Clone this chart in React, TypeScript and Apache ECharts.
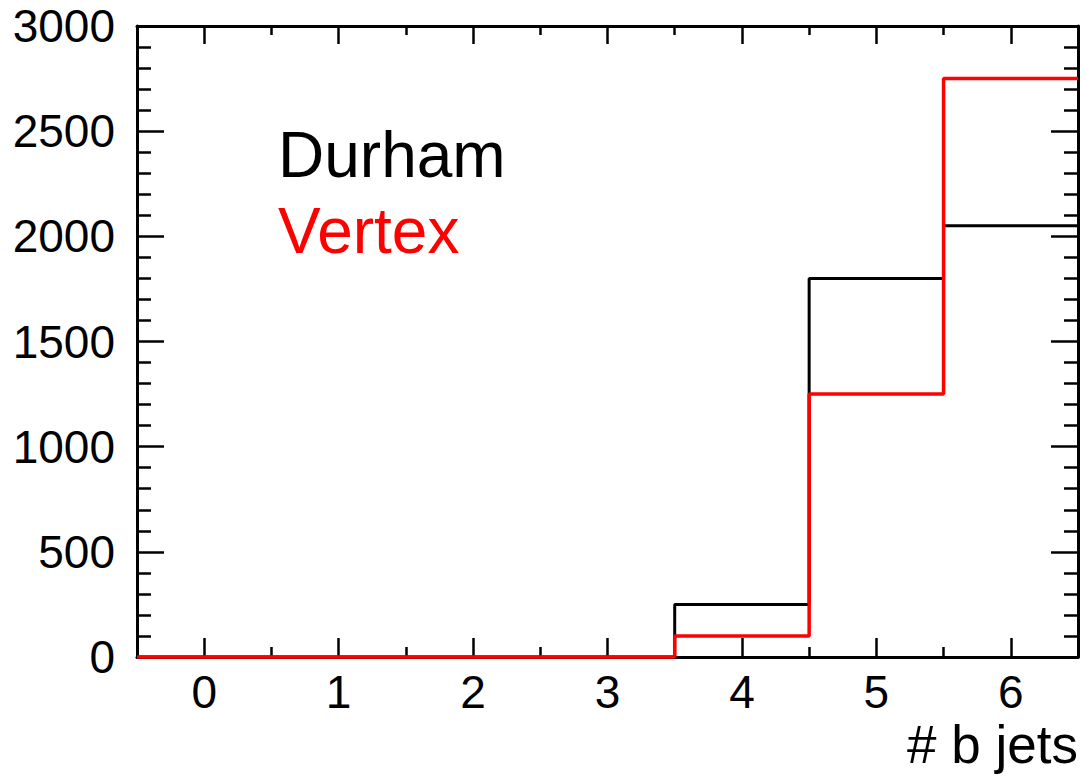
import React, { useEffect, useRef } from "react";
import * as echarts from "echarts";

const binCenters = [0, 1, 2, 3, 4, 5, 6];
const durham = [0, 0, 0, 0, 250, 1800, 2050];
const vertex = [0, 0, 0, 0, 100, 1250, 2750];
const xMajorTicks = [0, 1, 2, 3, 4, 5, 6];
const xMinorTicks = [0.5, 1.5, 2.5, 3.5, 4.5, 5.5];
const legendNames = ["Durham", "Vertex"];
const xTitle = "# b jets";

const FONT = "'Liberation Sans', Arial, Helvetica, sans-serif";

function histSteps(centers: number[], values: number[]) {
  const pts: number[][] = centers.map((c, i) => [c - 0.5, values[i]]);
  const last = centers.length - 1;
  pts.push([centers[last] + 0.5, values[last]]);
  return pts;
}

export default function App() {
  const ref = useRef<HTMLDivElement>(null);
  useEffect(() => {
    if (!ref.current) return;
    const chart = echarts.init(ref.current, null, { renderer: "svg" });
    const xBase = {
      type: "value" as const,
      min: -0.5,
      max: 6.5,
      splitLine: { show: false },
      axisLine: { show: true, onZero: false, lineStyle: { color: "#000", width: 3 } },
    };
    const yBase = {
      type: "value" as const,
      min: 0,
      max: 3000,
      interval: 500,
      splitLine: { show: false },
      axisLine: { show: true, onZero: false, lineStyle: { color: "#000", width: 3 } },
      axisTick: { show: true, inside: true, length: 27, lineStyle: { color: "#000", width: 2.5 } },
      minorTick: { show: true, splitNumber: 5, length: 14, lineStyle: { color: "#000", width: 2.5 } },
    };
    chart.setOption({
      animation: false,
      backgroundColor: "#fff",
      grid: { left: 137, right: 8, top: 26, bottom: 120, containLabel: false },
      xAxis: [
        {
          ...xBase,
          position: "bottom",
          name: xTitle,
          nameLocation: "end",
          nameGap: 0,
          nameTextStyle: {
            color: "#000",
            fontSize: 53,
            fontFamily: FONT,
            align: "right",
            verticalAlign: "top",
            padding: [61, 0, 0, 0],
          },
          axisTick: { show: true, inside: true, length: 19, customValues: xMajorTicks, lineStyle: { color: "#000", width: 2.5 } },
          axisLabel: { show: true, customValues: xMajorTicks, color: "#000", fontSize: 46, fontFamily: FONT, margin: 12 },
        },
        {
          ...xBase,
          position: "bottom",
          axisLine: { show: false, onZero: false },
          axisTick: { show: true, inside: true, length: 10, customValues: xMinorTicks, lineStyle: { color: "#000", width: 2.5 } },
          axisLabel: { show: false },
        },
        {
          ...xBase,
          position: "top",
          axisTick: { show: true, inside: true, length: 18, customValues: xMajorTicks, lineStyle: { color: "#000", width: 2.5 } },
          axisLabel: { show: false },
        },
        {
          ...xBase,
          position: "top",
          axisLine: { show: false, onZero: false },
          axisTick: { show: true, inside: true, length: 9, customValues: xMinorTicks, lineStyle: { color: "#000", width: 2.5 } },
          axisLabel: { show: false },
        },
      ],
      yAxis: [
        {
          ...yBase,
          position: "left",
          axisLabel: {
            show: true,
            color: "#000",
            fontSize: 46,
            fontFamily: FONT,
            margin: 22,
            formatter: (v: number) => String(v),
          },
        },
        {
          ...yBase,
          position: "right",
          axisLabel: { show: false },
        },
      ],
      graphic: [
        {
          type: "text",
          left: 278,
          top: 123,
          style: { text: legendNames[0], fill: "#000", font: `64px ${FONT}` },
        },
        {
          type: "text",
          left: 278,
          top: 199,
          style: { text: legendNames[1], fill: "#ff0000", font: `64px ${FONT}` },
        },
      ],
      series: [
        {
          name: legendNames[0],
          type: "line",
          step: "end",
          xAxisIndex: 0,
          yAxisIndex: 0,
          data: histSteps(binCenters, durham),
          showSymbol: false,
          clip: false,
          z: 5,
          lineStyle: { color: "#000", width: 3 },
        },
        {
          name: legendNames[1],
          type: "line",
          step: "end",
          xAxisIndex: 0,
          yAxisIndex: 0,
          data: histSteps(binCenters, vertex),
          showSymbol: false,
          clip: false,
          z: 6,
          lineStyle: { color: "#ff0000", width: 3.5 },
        },
      ],
    });
    return () => chart.dispose();
  }, []);
  return (
    <div
      ref={ref}
      style={{ position: "absolute", left: 0, top: 0, width: 1086, height: 777 }}
    />
  );
}
